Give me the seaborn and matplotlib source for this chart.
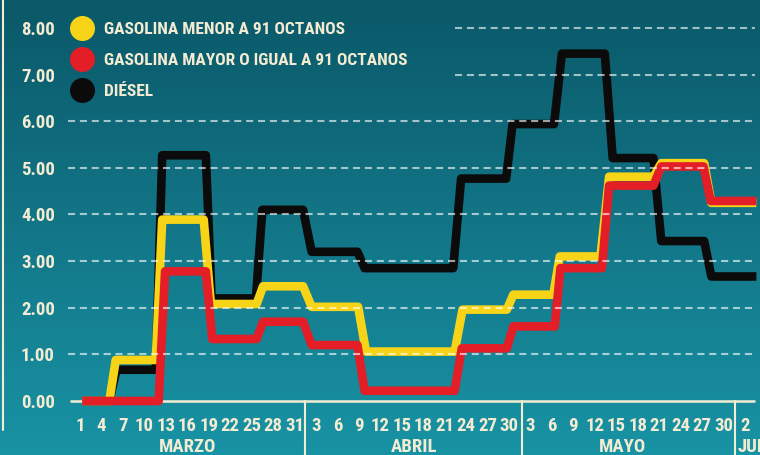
import os
import numpy as np
import pandas as pd
import matplotlib
matplotlib.use("Agg")
import matplotlib.pyplot as plt
import matplotlib.colors as mcolors
from matplotlib.lines import Line2D
from matplotlib import font_manager as fm
import seaborn as sns

# ---------------- data (x = days counted from 1 March, 1 Mar = 0) ----------------
menor_x = [0.3, 4.1, 5.0, 10.6, 11.5, 17.3, 18.3, 24.7, 25.6, 31.2, 32.4, 38.9, 40.0,
           52.4, 53.5, 59.7, 60.6, 66.2, 67.1, 72.8, 74.0, 80.2, 81.3, 87.3, 88.3, 94.6]
menor_y = [0.00, 0.00, 0.88, 0.88, 3.89, 3.89, 2.08, 2.08, 2.46, 2.46, 2.02, 2.02, 1.06,
           1.06, 1.96, 1.96, 2.28, 2.28, 3.10, 3.10, 4.81, 4.81, 5.10, 5.10, 4.25, 4.25]

mayor_x = [0.3, 11.0, 11.9, 17.6, 18.5, 24.7, 25.6, 31.2, 32.4, 38.8, 39.8, 52.4, 53.4,
           59.7, 60.6, 66.4, 67.2, 73.0, 74.0, 80.2, 81.3, 87.2, 88.2, 94.6]
mayor_y = [0.00, 0.00, 2.78, 2.78, 1.33, 1.33, 1.70, 1.70, 1.20, 1.20, 0.22, 0.22, 1.13,
           1.13, 1.60, 1.60, 2.85, 2.85, 4.62, 4.62, 5.03, 5.03, 4.29, 4.29]

diesel_x = [0.3, 4.1, 5.1, 10.6, 11.5, 17.6, 18.4, 24.6, 25.5, 31.2, 32.4, 38.8, 39.8,
            52.2, 53.3, 59.6, 60.5, 66.3, 67.4, 73.4, 74.5, 80.2, 81.3, 87.3, 88.3, 94.6]
diesel_y = [0.00, 0.00, 0.67, 0.67, 5.27, 5.27, 2.20, 2.20, 4.10, 4.10, 3.20, 3.20, 2.85,
            2.85, 4.77, 4.77, 5.94, 5.94, 7.45, 7.45, 5.21, 5.21, 3.43, 3.43, 2.67, 2.67]

series_labels = ["GASOLINA MENOR A 91 OCTANOS",
                 "GASOLINA MAYOR O IGUAL A 91 OCTANOS",
                 "DIÉSEL"]

y_ticks = [0, 1, 2, 3, 4, 5, 6, 7, 8]
y_tick_labels = ["0.00", "1.00", "2.00", "3.00", "4.00", "5.00", "6.00", "7.00", "8.00"]

x_ticks = [0, 3, 6, 9, 12, 15, 18, 21, 24, 27, 30,
           33, 36, 39, 42, 45, 48, 51, 54, 57, 60,
           63, 66, 69, 72, 75, 78, 81, 84, 87, 90, 93]
x_tick_labels = ["1", "4", "7", "10", "13", "16", "19", "22", "25", "28", "31",
                 "3", "6", "9", "12", "15", "18", "21", "24", "27", "30",
                 "3", "6", "9", "12", "15", "18", "21", "24", "27", "30",
                 "2"]

months = ["MARZO", "ABRIL", "MAYO", "JUNIO"]
month_centers = [15.1, 46.7, 75.9, 92.0]
month_breaks = [31.5, 61.8, 91.6]

# ---------------- font: look for a condensed bold face ----------------
def find_condensed_bold():
    prefs = ["liberationsansnarrow-bold.", "notosans-condensedbold.",
             "robotocondensed-bold.", "dejavusanscondensed-bold.",
             "opensans-condbold.", "opensanscondensed-bold.",
             "notosans-semicondensedbold.", "roboto_condensed-bold."]
    files = [f.fname for f in fm.fontManager.ttflist]
    low = {os.path.basename(p).lower(): p for p in files}
    for pref in prefs:
        for k, p in low.items():
            if k.startswith(pref):
                return p
    for k, p in low.items():
        if ("narrow" in k or "cond" in k) and "bold" in k and "italic" not in k \
                and "oblique" not in k and "extrabold" not in k and "semibold" not in k:
            return p
    return None

COND = find_condensed_bold()
sns.set_style("white")
plt.rcParams["font.family"] = ["DejaVu Sans"]
plt.rcParams["font.weight"] = "bold"


def fp(size):
    if COND:
        return fm.FontProperties(fname=COND, size=size)
    return fm.FontProperties(family="DejaVu Sans", weight="bold", size=size * 0.78)


CREAM = "#f3ecd2"
YELLOW = "#f7d417"
RED = "#e31e27"
BLACK = "#0b0b0b"

W, H = 760, 455
fig = plt.figure(figsize=(W / 100, H / 100), dpi=100)

# background gradient
bg = fig.add_axes([0, 0, 1, 1], zorder=-10)
cmap = mcolors.LinearSegmentedColormap.from_list("bg", ["#0a5868", "#127687", "#1893a4"])
bg.imshow(np.linspace(0, 1, 256).reshape(-1, 1), aspect="auto", cmap=cmap,
          extent=[0, 1, 0, 1], origin="upper")
bg.set_axis_off()

px_day = 7.15
x0_px = 80
left_px = 68
xl = (left_px - x0_px) / px_day
xr = (W - x0_px) / px_day
ax = fig.add_axes([left_px / W, 0.0982, 1 - left_px / W, 1 - 0.0982])
ax.set_facecolor("none")
ax.set_xlim(xl, xr)
ax.set_ylim(-0.2, 8.6)
for s in ax.spines.values():
    s.set_visible(False)

grid_end = (755 - x0_px) / px_day
legend_edge = (455 - x0_px) / px_day

# gridlines (dashed, translucent, above lines)
for v in y_ticks[1:]:
    start = legend_edge if v >= 7 else xl
    ax.hlines(v, start, grid_end, colors="white", alpha=0.62, lw=1.5,
              linestyles=(0, (3.4, 2.3)), zorder=6)

# baseline
ax.hlines(0, xl + 0.3, grid_end, colors=CREAM, lw=1.8, zorder=2)

# series
for xs, ys, col, z in [(diesel_x, diesel_y, BLACK, 3),
                       (menor_x, menor_y, YELLOW, 4),
                       (mayor_x, mayor_y, RED, 5)]:
    df = pd.DataFrame({"x": xs, "y": ys})
    sns.lineplot(data=df, x="x", y="y", ax=ax, color=col, lw=6.2, sort=False,
                 estimator=None, legend=False, zorder=z,
                 solid_joinstyle="round", solid_capstyle="butt", clip_on=False)

ax.set_xlabel("")
ax.set_ylabel("")

# ticks
ax.set_yticks(y_ticks)
ax.set_yticklabels(y_tick_labels)
ax.set_xticks(x_ticks)
ax.set_xticklabels(x_tick_labels)
ax.tick_params(axis="y", length=0, pad=9.5, labelcolor=CREAM)
ax.tick_params(axis="x", length=0, pad=5, labelcolor=CREAM)
for t in ax.get_yticklabels():
    t.set_fontproperties(fp(13.5))
for t in ax.get_xticklabels():
    t.set_fontproperties(fp(13.5))

# month separators and names
for b in month_breaks:
    ax.plot([b, b], [0, -1.4], color=CREAM, lw=1.5, clip_on=False, zorder=2)
for name, c in zip(months, month_centers):
    ha = "left" if name == "JUNIO" else "center"
    ax.text(c, -0.99, name, ha=ha, va="center", fontproperties=fp(13.5),
            color=CREAM, clip_on=False)

# left border line
fig.add_artist(Line2D([3 / W, 3 / W], [1, 1 - 430 / H], color=CREAM, lw=1.5))

# legend
handles = [Line2D([0], [0], marker="o", ls="", markersize=17,
                  markerfacecolor=c, markeredgecolor=c) for c in (YELLOW, RED, BLACK)]
leg = ax.legend(handles, series_labels, loc="upper left",
                bbox_to_anchor=(69.7 / W, 1 - 22 / H), bbox_transform=fig.transFigure,
                frameon=False, prop=fp(12.5),
                labelcolor=CREAM, handlelength=1.4, handletextpad=0.55,
                labelspacing=0.9, borderpad=0, borderaxespad=0)

fig.savefig("out.png", dpi=100)
